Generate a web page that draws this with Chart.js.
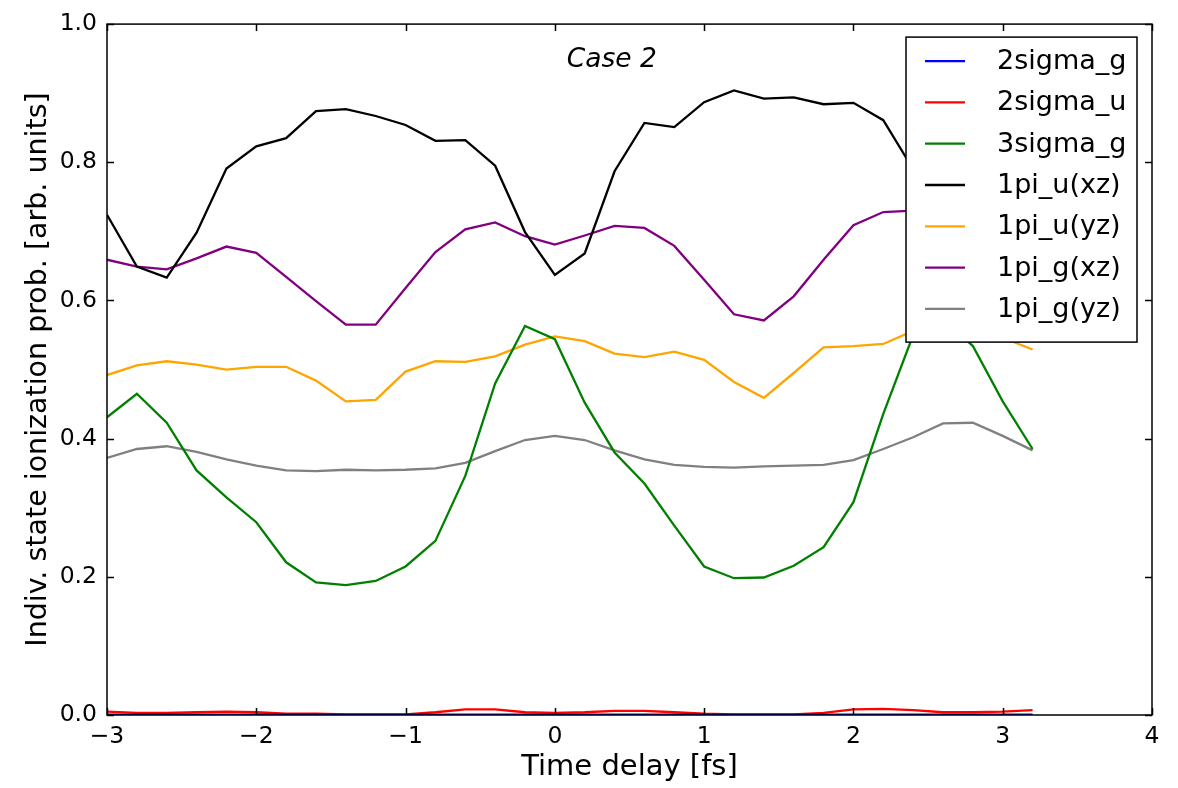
<!DOCTYPE html>
<html>
<head>
<meta charset="utf-8">
<script src="https://cdn.jsdelivr.net/npm/chart.js@4/dist/chart.umd.min.js"></script>
<style>
  html, body { margin: 0; padding: 0; background: #fff; }
  #wrap { width: 1178px; height: 788px; }
</style>
</head>
<body>
<div id="wrap"><canvas id="ionChart" width="1178" height="788"></canvas></div>
<script>
// time delays in fs
const delays = [-3.0, -2.8, -2.6, -2.4, -2.2, -2.0, -1.8, -1.6, -1.4, -1.2, -1.0, -0.8, -0.6, -0.4, -0.2, 0.0,
  0.2, 0.4, 0.6, 0.8, 1.0, 1.2, 1.4, 1.6, 1.8, 2.0, 2.2, 2.4, 2.6, 2.8, 3.0, 3.2];

const sigma2g = [0.0005, 0.0005, 0.0005, 0.0005, 0.0005, 0.0005, 0.0005, 0.0005, 0.0005, 0.0005, 0.0005, 0.0005, 0.0005, 0.0005, 0.0005, 0.0005,
  0.0005, 0.0005, 0.0005, 0.0005, 0.0005, 0.0005, 0.0005, 0.0005, 0.0005, 0.0005, 0.0005, 0.0005, 0.0005, 0.0005, 0.0005, 0.0005];
const sigma2u = [0.005, 0.003, 0.003, 0.004, 0.005, 0.004, 0.002, 0.002, 0.001, 0.001, 0.001, 0.004, 0.008, 0.008, 0.004, 0.003,
  0.004, 0.006, 0.006, 0.004, 0.002, 0.001, 0.001, 0.001, 0.003, 0.008, 0.009, 0.007, 0.004, 0.004, 0.005, 0.007];
const sigma3g = [0.431, 0.465, 0.423, 0.354, 0.315, 0.279, 0.221, 0.192, 0.188, 0.194, 0.215, 0.252, 0.346, 0.480, 0.563, 0.544,
  0.452, 0.380, 0.335, 0.274, 0.215, 0.198, 0.199, 0.216, 0.243, 0.308, 0.436, 0.550, 0.575, 0.534, 0.454, 0.385];
const piUxz = [0.724, 0.649, 0.633, 0.698, 0.791, 0.823, 0.835, 0.874, 0.877, 0.867, 0.854, 0.831, 0.832, 0.795, 0.699, 0.637,
  0.668, 0.787, 0.857, 0.851, 0.887, 0.904, 0.892, 0.894, 0.884, 0.886, 0.861, 0.790, 0.700, 0.640, 0.670, 0.760];
const piUyz = [0.492, 0.506, 0.512, 0.507, 0.500, 0.504, 0.504, 0.484, 0.454, 0.456, 0.497, 0.512, 0.511, 0.519, 0.536, 0.548,
  0.541, 0.523, 0.518, 0.526, 0.514, 0.482, 0.459, 0.495, 0.532, 0.534, 0.537, 0.556, 0.565, 0.560, 0.546, 0.529];
const piGxz = [0.659, 0.649, 0.645, 0.661, 0.678, 0.669, 0.634, 0.599, 0.565, 0.565, 0.618, 0.670, 0.703, 0.713, 0.693, 0.681,
  0.694, 0.708, 0.705, 0.679, 0.630, 0.580, 0.571, 0.606, 0.659, 0.709, 0.728, 0.730, 0.720, 0.700, 0.680, 0.670];
const piGyz = [0.372, 0.385, 0.389, 0.381, 0.370, 0.361, 0.354, 0.353, 0.355, 0.354, 0.355, 0.357, 0.365, 0.382, 0.398, 0.404,
  0.398, 0.383, 0.370, 0.362, 0.359, 0.358, 0.360, 0.361, 0.362, 0.369, 0.385, 0.402, 0.422, 0.423, 0.404, 0.383];

const seriesNames = ['2sigma_g', '2sigma_u', '3sigma_g', '1pi_u(xz)', '1pi_u(yz)', '1pi_g(xz)', '1pi_g(yz)'];
const seriesValues = [sigma2g, sigma2u, sigma3g, piUxz, piUyz, piGxz, piGyz];
const seriesColors = ['#0000ff', '#ff0000', '#008000', '#000000', '#ffa500', '#800080', '#808080'];

const xTicks = [-3, -2, -1, 0, 1, 2, 3, 4];
const yTicks = [0.0, 0.2, 0.4, 0.6, 0.8, 1.0];

const FONT = "'DejaVu Sans', sans-serif";

// box around the plot with inward ticks on all four sides
const frameTicks = {
  id: 'frameTicks',
  afterDatasetsDraw(chart) {
    const { ctx, chartArea: a, scales } = chart;
    const len = 7;
    ctx.save();
    ctx.strokeStyle = '#000';
    ctx.lineWidth = 1.5;
    ctx.strokeRect(a.left, a.top, a.right - a.left, a.bottom - a.top);
    ctx.beginPath();
    xTicks.forEach(v => {
      const px = Math.round(scales.x.getPixelForValue(v)) + 0.5;
      ctx.moveTo(px, a.bottom); ctx.lineTo(px, a.bottom - len);
      ctx.moveTo(px, a.top); ctx.lineTo(px, a.top + len);
    });
    yTicks.forEach(v => {
      const py = Math.round(scales.y.getPixelForValue(v)) + 0.5;
      ctx.moveTo(a.left, py); ctx.lineTo(a.left + len, py);
      ctx.moveTo(a.right, py); ctx.lineTo(a.right - len, py);
    });
    ctx.stroke();

    ctx.fillStyle = '#000';
    ctx.font = 'italic 26.5px ' + FONT;
    ctx.textAlign = 'center';
    ctx.textBaseline = 'middle';
    ctx.fillText('Case 2', a.left + 0.483 * (a.right - a.left), a.top + 36);
    ctx.restore();
  }
};

// opaque legend box in the upper right corner of the plot
const boxLegend = {
  id: 'boxLegend',
  afterDraw(chart) {
    const { ctx, chartArea: a } = chart;
    const x0 = a.right - 246, y0 = a.top + 13, w = 231, h = 305;
    ctx.save();
    ctx.fillStyle = '#fff';
    ctx.fillRect(x0, y0, w, h);
    ctx.strokeStyle = '#000';
    ctx.lineWidth = 1.5;
    ctx.strokeRect(x0, y0, w, h);
    ctx.font = '27px ' + FONT;
    ctx.textBaseline = 'middle';
    ctx.textAlign = 'left';
    chart.data.datasets.forEach((ds, i) => {
      const y = y0 + 24 + i * 41.3;
      ctx.strokeStyle = ds.borderColor;
      ctx.lineWidth = 2.3;
      ctx.beginPath();
      ctx.moveTo(x0 + 19, y);
      ctx.lineTo(x0 + 59, y);
      ctx.stroke();
      ctx.fillStyle = '#000';
      ctx.fillText(ds.label, x0 + 91, y + 1);
    });
    ctx.restore();
  }
};

const datasets = seriesNames.map((name, i) => ({
  label: name,
  data: delays.map((t, j) => ({ x: t, y: seriesValues[i][j] })),
  borderColor: seriesColors[i],
  backgroundColor: seriesColors[i],
  borderWidth: 2.3,
  pointRadius: 0,
  tension: 0,
  fill: false
}));

new Chart(document.getElementById('ionChart').getContext('2d'), {
  type: 'line',
  data: { datasets },
  plugins: [frameTicks, boxLegend],
  options: {
    responsive: false,
    animation: false,
    events: [],
    layout: { padding: { top: 22, right: 26, left: 0, bottom: 0 } },
    plugins: { legend: { display: false }, tooltip: { enabled: false } },
    scales: {
      x: {
        type: 'linear',
        min: -3, max: 4,
        afterFit(scale) { scale.height = 73; },
        afterBuildTicks(scale) { scale.ticks = xTicks.map(v => ({ value: v })); },
        grid: { display: false, drawTicks: false },
        border: { display: false },
        ticks: {
          color: '#000', padding: 8, maxRotation: 0,
          font: { family: FONT, size: 23.5 },
          callback: v => (v < 0 ? '\u2212' + Math.abs(v) : String(v))
        },
        title: {
          display: true, text: 'Time delay [fs]', color: '#000',
          font: { family: FONT, size: 29 }, padding: { top: 0, bottom: 3 }
        }
      },
      y: {
        min: 0, max: 1,
        afterFit(scale) { scale.width = 107; },
        afterBuildTicks(scale) { scale.ticks = yTicks.map(v => ({ value: v })); },
        grid: { display: false, drawTicks: false },
        border: { display: false },
        ticks: {
          color: '#000', padding: 10,
          font: { family: FONT, size: 23.5 },
          callback: v => v.toFixed(1)
        },
        title: {
          display: true, text: 'Indiv. state ionization prob. [arb. units]', color: '#000',
          font: { family: FONT, size: 28.5 }, padding: { top: 21, bottom: 0 }
        }
      }
    }
  }
});
</script>
</body>
</html>
